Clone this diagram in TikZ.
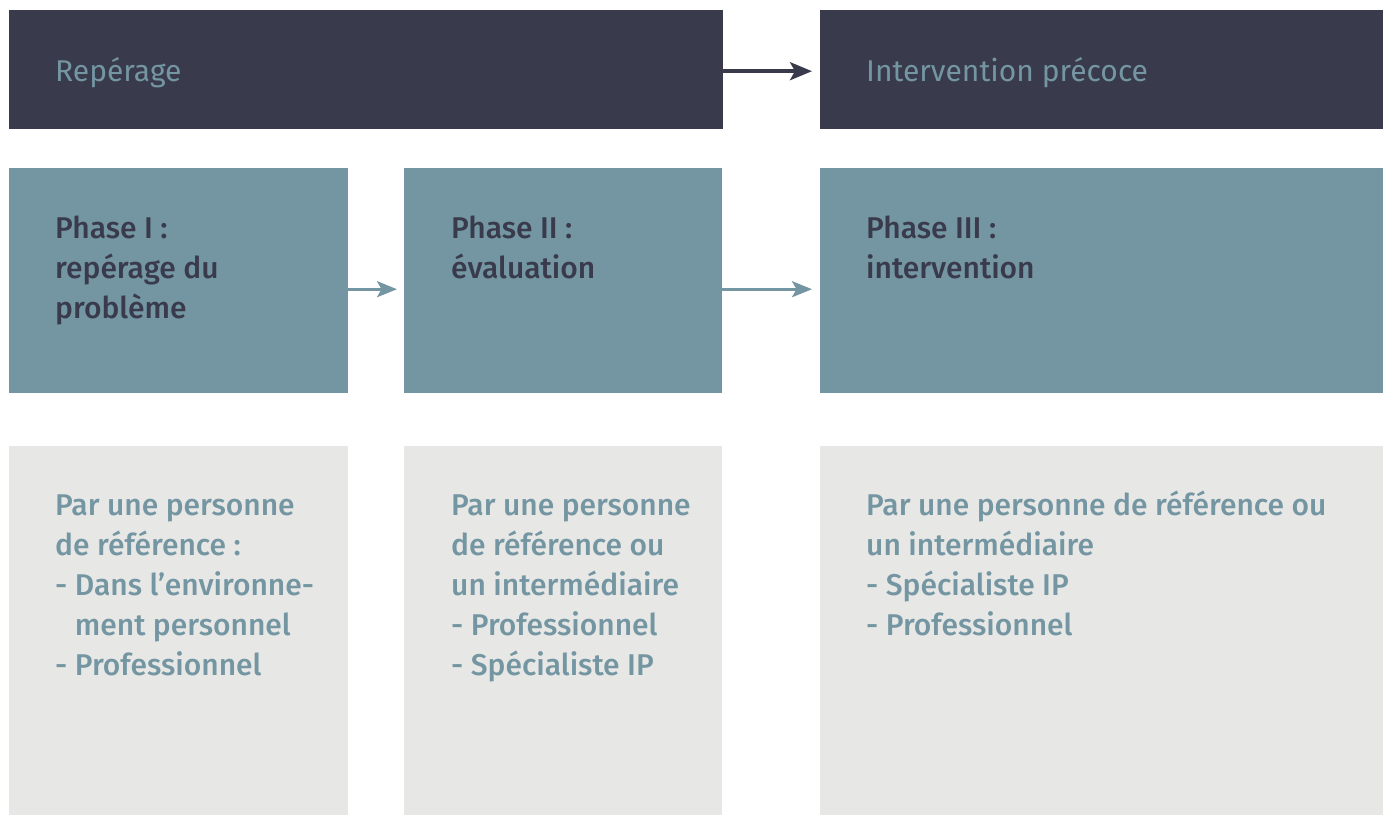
\documentclass[tikz,border=0pt]{standalone}
\usepackage{fontspec}
\setmainfont{Fira Sans}
\newfontfamily\medfont{Fira Sans Medium}
\usetikzlibrary{arrows.meta}
\definecolor{darkc}{HTML}{393A4B}
\definecolor{tealc}{HTML}{7496A2}
\definecolor{grayc}{HTML}{E7E7E5}
\tikzset{
  box/.style={rectangle, draw=none, inner sep=0pt, anchor=north west},
  darkbox/.style={box, fill=darkc},
  tealbox/.style={box, fill=tealc},
  graybox/.style={box, fill=grayc},
  txt/.style={inner sep=0pt, anchor=base west, align=left, font=\fontsize{30}{40}\selectfont},
  toptxt/.style={txt, text=tealc},
  phasetxt/.style={txt, text=darkc, font=\fontsize{30}{40}\selectfont\medfont},
  bodytxt/.style={txt, text=tealc, font=\fontsize{30}{40}\selectfont\medfont},
  darrow/.style={draw=darkc, line width=3.5pt, -{Stealth[length=22pt,width=18pt,inset=5pt]}},
  tarrow/.style={draw=tealc, line width=3pt, -{Stealth[length=20pt,width=16pt,inset=4.5pt]}},
}
\begin{document}
\begin{tikzpicture}[x=1pt,y=-1pt]
\useasboundingbox (0,0) rectangle (1391,815);
\node[darkbox, minimum width=714pt, minimum height=119pt] (top1) at (9,10) {};
\node[darkbox, minimum width=563pt, minimum height=119pt] (top2) at (820,10) {};
\node[tealbox, minimum width=339pt, minimum height=225pt] (ph1) at (9,168) {};
\node[tealbox, minimum width=318pt, minimum height=225pt] (ph2) at (404,168) {};
\node[tealbox, minimum width=563pt, minimum height=225pt] (ph3) at (820,168) {};
\node[graybox, minimum width=339pt, minimum height=369pt] (g1) at (9,446) {};
\node[graybox, minimum width=318pt, minimum height=369pt] (g2) at (404,446) {};
\node[graybox, minimum width=563pt, minimum height=369pt] (g3) at (820,446) {};

\node[toptxt] (t1) at (55,81) {Repérage};
\node[toptxt] (t2) at (866,81) {Intervention précoce};

% base anchor of a multi-line node is the baseline of its last line
\node[phasetxt] (p1) at (55,318) {Phase I :\\repérage du\\problème};
\node[phasetxt] (p2) at (451,278) {Phase II :\\évaluation};
\node[phasetxt] (p3) at (866,278) {Phase III :\\intervention};

\node[bodytxt] (b1) at (55,675) {Par une personne\\de référence :\\- Dans l’environne-\\\hphantom{- }ment personnel\\- Professionnel};
\node[bodytxt] (b2) at (451,675) {Par une personne\\de référence ou\\un intermédiaire\\- Professionnel\\- Spécialiste IP};
\node[bodytxt] (b3) at (866,635) {Par une personne de référence ou\\un intermédiaire\\- Spécialiste IP\\- Professionnel};

\draw[darrow, shorten >=8pt] ([yshift=-1.5pt]top1.east) -- ([yshift=-1.5pt]top2.west);
\draw[tarrow, shorten >=7pt] ([yshift=-8.5pt]ph1.east) -- ([yshift=-8.5pt]ph2.west);
\draw[tarrow, shorten >=8pt] ([yshift=-8.5pt]ph2.east) -- ([yshift=-8.5pt]ph3.west);
\end{tikzpicture}
\end{document}
